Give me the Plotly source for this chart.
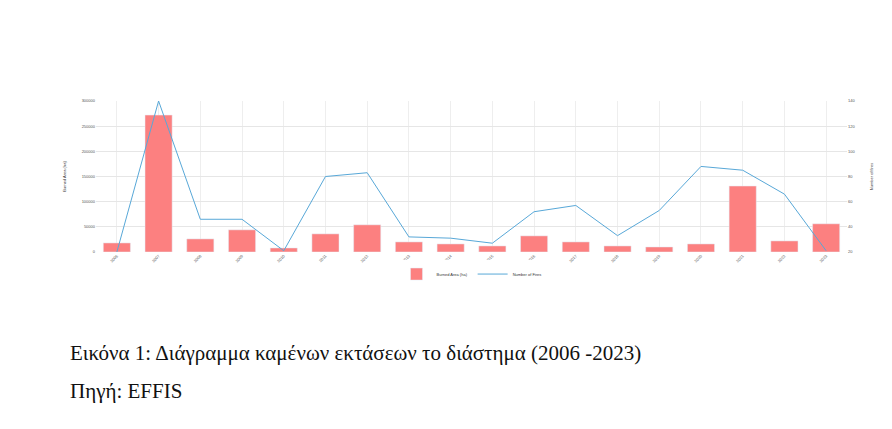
import plotly.graph_objects as go

years = [str(y) for y in range(2006, 2024)]
burned_area = [18000, 272000, 26000, 44000, 8000, 36000, 54000, 20000, 16000,
               12000, 32000, 20000, 12000, 10000, 16000, 131000, 22000, 56000]
num_fires = [20, 140, 46, 46, 21, 80, 83, 32, 31, 27, 52, 57, 33, 53, 88, 85, 66, 21]

fig = go.Figure()
fig.add_trace(go.Bar(
    x=years, y=burned_area, name='Burned Area (ha)',
    marker=dict(color='#fc8080'), width=0.65,
))
fig.add_trace(go.Scatter(
    x=years, y=num_fires, name='Number of Fires', yaxis='y2',
    mode='lines', line=dict(color='#58a8d8', width=1),
))

small = dict(size=4, color='#555')
fig.update_layout(
    width=892, height=429,
    margin=dict(l=88, r=53, t=93, b=185),
    paper_bgcolor='white', plot_bgcolor='white',
    font=dict(family='Liberation Sans', size=4, color='#555'),
    showlegend=True,
    legend=dict(orientation='h', x=0.5, xanchor='center', y=-0.05, yanchor='top',
                font=dict(size=4, color='#333')),
    xaxis=dict(tickangle=-45, tickfont=small, showgrid=True, gridcolor='#eee',
               ticks=''),
    yaxis=dict(range=[0, 300000], dtick=50000, tickformat='d', tickfont=small,
               gridcolor='#e6e6e6', zeroline=False,
               title=dict(text='Burned Area (ha)', font=dict(size=4, color='#333'))),
    yaxis2=dict(range=[20, 140], dtick=20, overlaying='y', side='right', tickfont=small,
                showgrid=False, zeroline=False,
                title=dict(text='Number of fires', font=dict(size=4, color='#333'))),
    annotations=[
        dict(text='Εικόνα 1: Διάγραμμα καμένων εκτάσεων το διάστημα (2006 -2023)',
             xref='paper', yref='paper', x=-0.037, y=-0.67, xanchor='left', yanchor='middle',
             showarrow=False, font=dict(family='Liberation Serif', size=21, color='#111')),
        dict(text='Πηγή: EFFIS',
             xref='paper', yref='paper', x=-0.037, y=-0.92, xanchor='left', yanchor='middle',
             showarrow=False, font=dict(family='Liberation Serif', size=21, color='#111')),
    ],
)

fig.write_html("out.html")
